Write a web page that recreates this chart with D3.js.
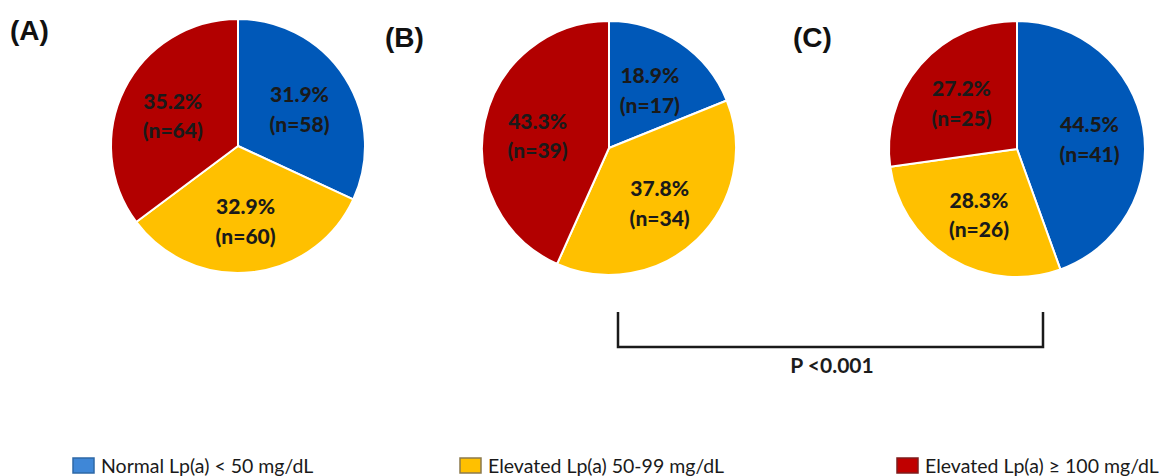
<!DOCTYPE html>
<html><head><meta charset="utf-8">
<script src="https://cdn.jsdelivr.net/npm/d3@7"></script>
<style>body{margin:0;background:#fff}svg{display:block}</style>
</head><body>
<svg id="chart" width="1163" height="476"></svg>
<script>
const categories = ["Normal Lp(a) < 50 mg/dL", "Elevated Lp(a) 50-99 mg/dL", "Elevated Lp(a) \u2265 100 mg/dL"];
const panels = ["(A)", "(B)", "(C)"];
const percentA = [31.9, 32.9, 35.2];
const countsA = [58, 60, 64];
const percentB = [18.9, 37.8, 43.3];
const countsB = [17, 34, 39];
const percentC = [44.5, 28.3, 27.2];
const countsC = [41, 26, 25];
const pText = "P <0.001";

const pieColors = ["#0058b8", "#ffc000", "#b20000"];
const legendFill = ["#3f87d7", "#ffc000", "#c00000"];
const legendStroke = ["#2e68a6", "#8c7a4c", "#7e1c1c"];

const svg = d3.select("#chart");
const layout = [
  {cx: 238, cy: 146, r: 127, lx: 10, ly: 40, p: percentA, n: countsA},
  {cx: 609, cy: 148, r: 127, lx: 385, ly: 47, p: percentB, n: countsB},
  {cx: 1017, cy: 149, r: 128, lx: 793, ly: 47, p: percentC, n: countsC}
];

const pie = d3.pie().sort(null).value(d => d.p);
layout.forEach((L, i) => {
  const data = L.p.map((p, k) => ({p, n: L.n[k], k}));
  const arcs = pie(data);
  const arc = d3.arc().innerRadius(0).outerRadius(L.r);
  const labelArc = d3.arc().innerRadius(L.r * 0.575).outerRadius(L.r * 0.575);
  const g = svg.append("g").attr("transform", `translate(${L.cx},${L.cy})`);
  g.selectAll("path").data(arcs).join("path")
    .attr("d", arc).attr("fill", d => pieColors[d.data.k])
    .attr("stroke", "#fff").attr("stroke-width", 2).attr("stroke-linejoin", "round");
  const t = g.selectAll("text").data(arcs).join("text")
    .attr("transform", d => `translate(${labelArc.centroid(d)})`)
    .attr("text-anchor", "middle")
    .attr("font-family", "Lato, 'Open Sans', sans-serif")
    .attr("font-weight", 900).attr("font-size", 21).attr("fill", "#1a1a1a");
  t.append("tspan").attr("x", 0).attr("dy", "-0.2em").text(d => d.data.p.toFixed(1) + "%");
  t.append("tspan").attr("x", 0).attr("dy", "1.4em").text(d => `(n=${d.data.n})`);
  svg.append("text").attr("x", L.lx).attr("y", L.ly)
    .attr("font-family", "'Liberation Sans', Arial, sans-serif")
    .attr("font-weight", "bold").attr("font-size", 28).attr("fill", "#111")
    .text(panels[i]);
});

// significance bracket between B and C
const bx = d3.scaleLinear().domain([0, 1]).range([618, 1043]);
svg.append("path")
  .attr("d", d3.line()([[bx(0), 312], [bx(0), 347], [bx(1), 347], [bx(1), 312]]))
  .attr("fill", "none").attr("stroke", "#1a1a1a").attr("stroke-width", 2.5);
svg.append("text").attr("x", 832).attr("y", 373).attr("text-anchor", "middle")
  .attr("font-family", "Lato, 'Open Sans', sans-serif").attr("font-weight", "bold")
  .attr("font-size", 21).attr("fill", "#1c1c1c").text(pText);

// legend
const legX = [73, 460, 897];
const lg = svg.selectAll("g.leg").data(categories).join("g").attr("class", "leg")
  .attr("transform", (d, i) => `translate(${legX[i]},458)`);
lg.append("rect").attr("width", 21).attr("height", 15)
  .attr("fill", (d, i) => legendFill[i]).attr("stroke", (d, i) => legendStroke[i]).attr("stroke-width", 1.5);
lg.append("text").attr("x", 28).attr("y", 14.5)
  .attr("font-family", "Lato, 'Open Sans', sans-serif").attr("font-size", 19.5).attr("fill", "#1a1a1a")
  .text(d => d);
</script>
</body></html>
